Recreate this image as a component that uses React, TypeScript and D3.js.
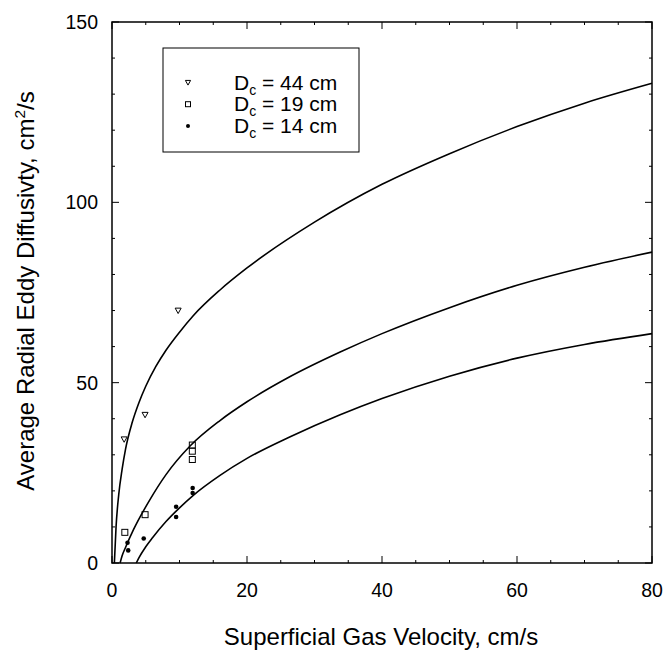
import * as d3 from "d3";
import React from "react";

// measured points (cm/s, cm^2/s)
const triX = [1.8, 4.9, 9.8];
const triY = [34.3, 41.1, 70.0];
const sqX = [1.9, 4.9, 11.9, 11.9, 11.9];
const sqY = [8.5, 13.4, 32.7, 31.0, 28.7];
const dotX = [2.3, 2.4, 4.7, 9.5, 9.5, 11.95, 11.95];
const dotY = [5.6, 3.5, 6.8, 15.6, 12.75, 20.8, 19.4];

// fitted curves
const curve44X = [0.35, 0.6, 1, 1.5, 2, 3, 4, 5, 6.5, 8, 10, 12, 16, 20, 30, 40, 50, 60, 70, 80];
const curve44Y = [0, 10, 19, 26, 31.5, 39, 44.5, 49, 54.5, 59, 64, 68.5, 75.7, 81.8, 94.5, 105, 113.5, 121, 127.5, 133];
const curve19X = [1.2, 1.5, 2, 3.2, 5.6, 8, 11.6, 16, 20, 26.4, 33.8, 40, 50, 60, 70, 80];
const curve19Y = [0, 2, 4.3, 9.3, 17.5, 24.5, 32.5, 39.5, 44.7, 51.7, 58.5, 63.6, 70.8, 77, 82, 86.2];
const curve14X = [3.6, 4, 5, 6, 8, 10, 12, 16, 20, 26.4, 33.8, 40, 50, 60, 70, 80];
const curve14Y = [0, 1.5, 4.5, 7, 11.5, 15.3, 18.7, 24.3, 29, 35, 41.1, 45.6, 51.8, 56.8, 60.6, 63.6];

const xLabels = [0, 20, 40, 60, 80];
const yLabels = [0, 50, 100, 150];
const legendItems = ["44", "19", "14"];

const W = 667;
const H = 656;
const margin = { top: 22, right: 15, bottom: 93, left: 112 };
const font = "'Liberation Sans', Arial, Helvetica, sans-serif";

export default function App() {
  const x = d3.scaleLinear().domain([0, 80]).range([margin.left, W - margin.right]);
  const y = d3.scaleLinear().domain([0, 150]).range([H - margin.bottom, margin.top]);

  const line = d3
    .line<number[]>()
    .x((d) => x(d[0]))
    .y((d) => y(d[1]))
    .curve(d3.curveMonotoneX);

  const curves = [
    d3.zip(curve44X, curve44Y),
    d3.zip(curve19X, curve19Y),
    d3.zip(curve14X, curve14Y),
  ];

  const x0 = x(0), x1 = x(80), y0 = y(0), y1 = y(150);
  const xTicks = x.ticks(16);
  const yTicks = y.ticks(15);

  const tri = (cx: number, cy: number, s = 3) =>
    `M${cx - s},${cy - s * 0.8}L${cx + s},${cy - s * 0.8}L${cx},${cy + s}Z`;

  return (
    <div style={{ position: "absolute", left: 0, top: 0 }}>
      <svg width={W} height={H} style={{ display: "block", background: "#fff" }} fontFamily={font}>
        {/* ticks on all four sides */}
        <g stroke="#000" strokeWidth={1}>
          {xTicks.map((t) => {
            const len = t % 20 === 0 ? 7 : 3;
            return (
              <g key={"xt" + t}>
                <line x1={x(t)} x2={x(t)} y1={y0} y2={y0 - len} />
                <line x1={x(t)} x2={x(t)} y1={y1} y2={y1 + len} />
              </g>
            );
          })}
          {yTicks.map((t) => {
            const len = t % 50 === 0 ? 7 : 3;
            return (
              <g key={"yt" + t}>
                <line x1={x0} x2={x0 + len} y1={y(t)} y2={y(t)} />
                <line x1={x1} x2={x1 - len} y1={y(t)} y2={y(t)} />
              </g>
            );
          })}
        </g>
        <rect x={x0} y={y1} width={x1 - x0} height={y0 - y1} fill="none" stroke="#000" strokeWidth={1.5} />

        {xLabels.map((t) => (
          <text key={"xl" + t} x={x(t)} y={y0 + 34} textAnchor="middle" fontSize={19.5}>
            {t}
          </text>
        ))}
        {yLabels.map((t) => (
          <text key={"yl" + t} x={x0 - 14} y={y(t) + 7} textAnchor="end" fontSize={19.5}>
            {t}
          </text>
        ))}

        <text x={381} y={645} textAnchor="middle" fontSize={24}>
          Superficial Gas Velocity, cm/s
        </text>
        <text transform={`translate(34,${291}) rotate(-90)`} textAnchor="middle" fontSize={24}>
          Average Radial Eddy Diffusivty, cm
          <tspan fontSize={15.5} dy={-9}>2</tspan>
          <tspan dy={9}>/s</tspan>
        </text>

        {curves.map((c, i) => (
          <path key={"c" + i} d={line(c) || ""} fill="none" stroke="#000" strokeWidth={1.6} />
        ))}

        {triX.map((v, i) => (
          <path key={"tr" + i} d={tri(x(v), y(triY[i]))} fill="none" stroke="#000" strokeWidth={1} />
        ))}
        {sqX.map((v, i) => (
          <rect key={"sq" + i} x={x(v) - 3} y={y(sqY[i]) - 3} width={6} height={6} fill="none" stroke="#000" strokeWidth={1} />
        ))}
        {dotX.map((v, i) => (
          <circle key={"dt" + i} cx={x(v)} cy={y(dotY[i])} r={2.3} fill="#000" />
        ))}

        {/* legend */}
        <rect x={163} y={48} width={196} height={104} fill="#fff" stroke="#000" strokeWidth={1} />
        {legendItems.map((d, i) => {
          const cy = 82.5 + i * 21.7;
          return (
            <g key={"lg" + i}>
              {i === 0 && <path d={tri(188, cy, 2.6)} fill="none" stroke="#000" />}
              {i === 1 && <rect x={185.5} y={cy - 2.5} width={5} height={5} fill="none" stroke="#000" />}
              {i === 2 && <circle cx={188} cy={cy} r={2} fill="#000" />}
              <text x={234} y={cy + 7} fontSize={21}>
                D<tspan fontSize={14} dy={5}>c</tspan>
                <tspan dy={-5}> = {d} cm</tspan>
              </text>
            </g>
          );
        })}
      </svg>
    </div>
  );
}
